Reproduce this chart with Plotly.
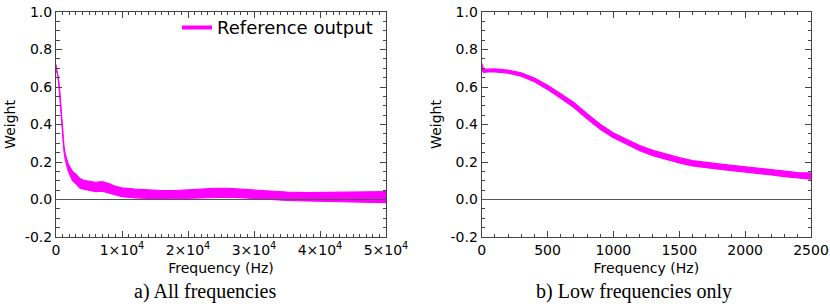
import plotly.graph_objects as go

# ---------------- data ----------------
# Panel a) all frequencies: envelope of the noisy weight band
freq_all = [0, 100, 200, 300, 400, 500, 600, 700, 800, 900, 1000, 1200, 1400, 1600,
            1800, 2000, 2500, 3000, 3600, 4200, 5000, 6000, 7000, 8000, 9000, 10000,
            12000, 14000, 16000, 18000, 20000, 22000, 24000, 26000, 28000, 30000,
            32000, 35000, 38000, 41000, 44000, 47000, 50000]
lower_all = [0.69, 0.683, 0.675, 0.66, 0.63, 0.588, 0.54, 0.492, 0.432, 0.375, 0.33,
             0.26, 0.212, 0.176, 0.158, 0.14, 0.10, 0.085, 0.062, 0.055, 0.048, 0.042,
             0.045, 0.035, 0.022, 0.015, 0.008, 0.004, 0.003, 0.004, 0.006, 0.01,
             0.013, 0.012, 0.01, 0.005, 0.0, -0.005, -0.008, -0.01, -0.012, -0.013, -0.017]
upper_all = [0.72, 0.697, 0.69, 0.675, 0.648, 0.608, 0.562, 0.515, 0.456, 0.40, 0.355,
             0.288, 0.242, 0.21, 0.195, 0.18, 0.15, 0.135, 0.112, 0.102, 0.098, 0.092,
             0.095, 0.085, 0.07, 0.062, 0.055, 0.05, 0.048, 0.048, 0.05, 0.055,
             0.06, 0.06, 0.055, 0.05, 0.045, 0.04, 0.037, 0.038, 0.04, 0.04, 0.042]

# Panel b) low frequencies only
freq_low = [0, 15, 50, 100, 200, 300, 400, 500, 600, 700, 800, 900, 1000, 1100, 1200,
            1300, 1400, 1500, 1600, 1700, 1800, 1900, 2000, 2100, 2200, 2300, 2400, 2500]
lower_low = [0.69, 0.678, 0.68, 0.68, 0.674, 0.658, 0.628, 0.587, 0.54, 0.491, 0.431,
             0.375, 0.329, 0.295, 0.26, 0.234, 0.213, 0.195, 0.179, 0.169, 0.162,
             0.154, 0.147, 0.14, 0.131, 0.122, 0.113, 0.108]
upper_low = [0.725, 0.695, 0.695, 0.697, 0.69, 0.676, 0.648, 0.609, 0.564, 0.517, 0.457,
             0.401, 0.355, 0.321, 0.288, 0.262, 0.241, 0.223, 0.207, 0.197, 0.19,
             0.182, 0.175, 0.168, 0.159, 0.152, 0.143, 0.142]

xtick_vals_a = [0, 10000, 20000, 30000, 40000, 50000]
xtick_text_a = ["0", "1×10<sup>4</sup>", "2×10<sup>4</sup>", "3×10<sup>4</sup>",
                "4×10<sup>4</sup>", "5×10<sup>4</sup>"]
xtick_vals_b = [0, 500, 1000, 1500, 2000, 2500]
ytick_vals = [-0.2, 0.0, 0.2, 0.4, 0.6, 0.8, 1.0]
ytick_text = ["-0.2", "0.0", "0.2", "0.4", "0.6", "0.8", "1.0"]
series_name = "Reference output"
captions = ["a) All frequencies", "b) Low frequencies only"]

# ---------------- styling ----------------
MAG = "#ff00ff"
AX = "#444444"
FONT = "DejaVu Sans"

fig = go.Figure()

def band(x, lo, hi, xa, ya):
    fig.add_trace(go.Scatter(x=x, y=hi, mode="lines", line=dict(color=MAG, width=1.2),
                             xaxis=xa, yaxis=ya, showlegend=False, hoverinfo="skip"))
    fig.add_trace(go.Scatter(x=x, y=lo, mode="lines", line=dict(color=MAG, width=1.2),
                             fill="tonexty", fillcolor=MAG,
                             xaxis=xa, yaxis=ya, showlegend=False, hoverinfo="skip"))

band(freq_all, lower_all, upper_all, "x", "y")
band(freq_low, lower_low, upper_low, "x2", "y2")

# legend entry
fig.add_trace(go.Scatter(x=[None], y=[None], mode="lines", name=series_name,
                         line=dict(color=MAG, width=4), xaxis="x", yaxis="y"))

common_axis = dict(showline=True, linecolor=AX, linewidth=1, mirror="ticks",
                   ticks="inside", ticklen=6, tickwidth=1, tickcolor=AX,
                   showgrid=False, zeroline=False, automargin=False,
                   ticklabeloverflow="allow",
                   tickfont=dict(family=FONT, size=14, color="black"))

xa_title = dict(text="Frequency (Hz)", font=dict(family=FONT, size=14, color="black"),
                standoff=6)
ya_title = dict(text="Weight", font=dict(family=FONT, size=14, color="black"),
                standoff=5)

dom_a = [0, 0.4371]
dom_b = [0.5638, 1.0]

fig.update_layout(
    width=830, height=306,
    margin=dict(l=56, r=19, t=9, b=69),
    paper_bgcolor="white", plot_bgcolor="white",
    showlegend=True,
    legend=dict(x=0.1603, y=0.93, xanchor="left", yanchor="middle",
                bgcolor="rgba(0,0,0,0)", borderwidth=0,
                font=dict(family=FONT, size=18, color="black")),
    xaxis=dict(domain=dom_a, range=[0, 50000], anchor="y",
               tickmode="array", tickvals=xtick_vals_a, ticktext=xtick_text_a,
               minor=dict(ticks="inside", ticklen=3, dtick=1000, tickcolor=AX),
               title=xa_title, **common_axis),
    yaxis=dict(domain=[0, 1], range=[-0.2, 1.0], anchor="x",
               tickmode="array", tickvals=ytick_vals, ticktext=ytick_text,
               minor=dict(ticks="inside", ticklen=3.5, dtick=0.05, tickcolor=AX),
               title=ya_title, **common_axis),
    xaxis2=dict(domain=dom_b, range=[0, 2500], anchor="y2",
                tickmode="array", tickvals=xtick_vals_b,
                ticktext=[str(v) for v in xtick_vals_b],
                minor=dict(ticks="inside", ticklen=3, dtick=100, tickcolor=AX),
                title=xa_title, **common_axis),
    yaxis2=dict(domain=[0, 1], range=[-0.2, 1.0], anchor="x2",
                tickmode="array", tickvals=ytick_vals, ticktext=ytick_text,
                minor=dict(ticks="inside", ticklen=3.5, dtick=0.05, tickcolor=AX),
                title=ya_title, **common_axis),
)

# zero reference lines drawn above the band
for xr, yr in (("x domain", "y"), ("x2 domain", "y2")):
    fig.add_shape(type="line", xref=xr, yref=yr, x0=0, x1=1, y0=0, y1=0,
                  line=dict(color="#555555", width=1), layer="above")

# captions
for cx, txt in ((0.197, captions[0]), (0.765, captions[1])):
    fig.add_annotation(x=cx, y=-0.24, xref="paper", yref="paper", text=txt,
                       showarrow=False, xanchor="center", yanchor="middle",
                       font=dict(family="Liberation Serif", size=20, color="black"))

# remove the default page margin so the 830x306 figure fills the window exactly
fig.write_html("out.html",
               config={"displayModeBar": False},
               post_script="document.body.style.margin='0';"
                           "document.body.style.overflow='hidden';")
